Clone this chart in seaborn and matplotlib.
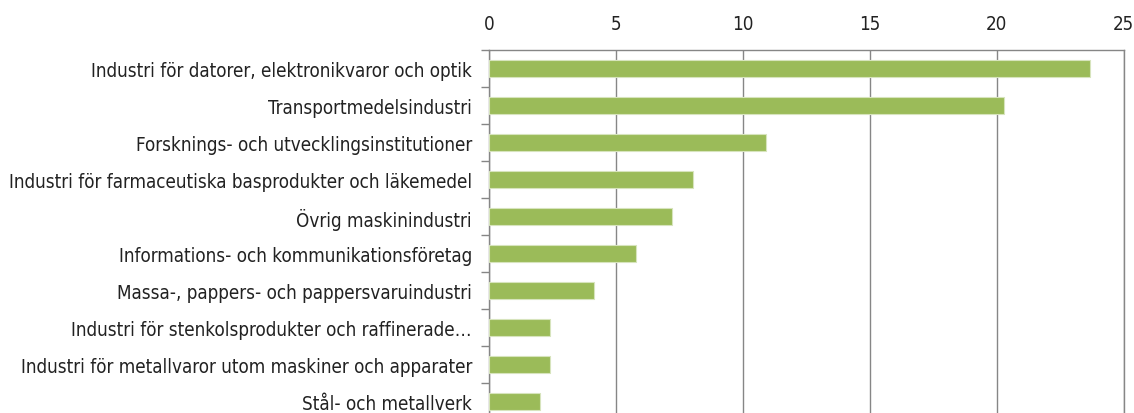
import numpy as np
import matplotlib
matplotlib.use("Agg")
import matplotlib.pyplot as plt
import seaborn as sns


CATEGORIES = [
    "Industri för datorer, elektronikvaror och optik",
    "Transportmedelsindustri",
    "Forsknings- och utvecklingsinstitutioner",
    "Industri för farmaceutiska basprodukter och läkemedel",
    "Övrig maskinindustri",
    "Informations- och kommunikationsföretag",
    "Massa-, pappers- och pappersvaruindustri",
    "Industri för stenkolsprodukter och raffinerade…",
    "Industri för metallvaror utom maskiner och apparater",
    "Stål- och metallverk",
]
VALUES = [23.65, 20.3, 10.9, 8.05, 7.2, 5.8, 4.15, 2.4, 2.4, 2.0]
X_TICKS = [0, 5, 10, 15, 20, 25]

BAR_COLOR = "#9BBB59"
GRID_COLOR = "#868686"


def main():
    sns.set_style("white")
    plt.rcParams["font.family"] = ["DejaVu Sans"]
    plt.rcParams["font.stretch"] = "condensed"

    fig = plt.figure(figsize=(11.34, 4.14), dpi=100)
    ax = fig.add_axes([0.431, -0.018, 0.560, 0.895])

    sns.barplot(x=VALUES, y=CATEGORIES, orient="h", color=BAR_COLOR,
                saturation=1, width=0.46, edgecolor="#D7E4BD", linewidth=0.8,
                ax=ax, zorder=3)

    ax.set_xlim(0, 25)
    ax.set_ylim(len(CATEGORIES) - 0.5, -0.5)
    ax.set_xticks(X_TICKS)
    ax.xaxis.tick_top()
    ax.tick_params(axis="x", length=0, pad=12, labelsize=13.5, colors="#222222")
    ax.tick_params(axis="y", which="major", left=True, length=0, pad=12,
                   labelsize=13.5, colors="#222222")
    ax.set_yticks(np.arange(-0.5, len(CATEGORIES), 1), minor=True)
    ax.tick_params(axis="y", which="minor", left=True, length=6, width=1,
                   color=GRID_COLOR, direction="out")

    ax.grid(axis="x", color=GRID_COLOR, linewidth=1, zorder=0)
    ax.set_axisbelow(True)
    for side in ["top", "left", "right"]:
        ax.spines[side].set_color(GRID_COLOR)
        ax.spines[side].set_linewidth(1)
    ax.spines["bottom"].set_visible(False)
    ax.set_xlabel("")
    ax.set_ylabel("")

    fig.savefig("out.png", dpi=100, facecolor="white")


if __name__ == "__main__":
    main()
